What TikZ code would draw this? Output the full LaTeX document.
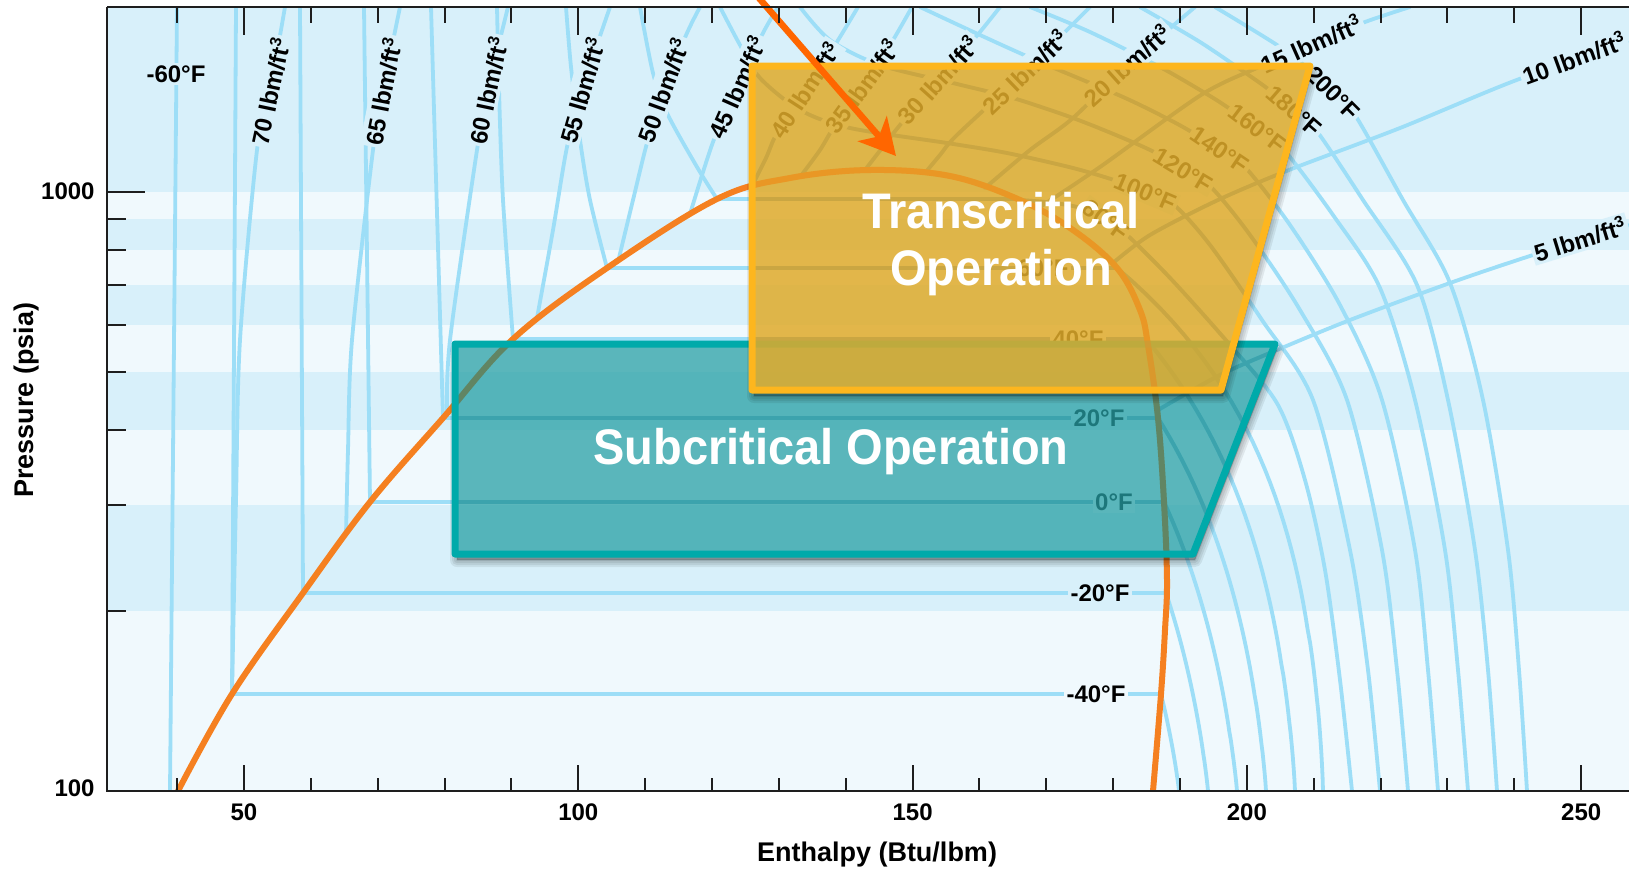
\documentclass[tikz,border=0pt]{standalone}
\usepackage{fontspec}
\setmainfont{Liberation Sans}
\usetikzlibrary{arrows.meta}

\definecolor{bgdark}{RGB}{216,240,250}
\definecolor{bglight}{RGB}{240,249,253}
\definecolor{isoline}{RGB}{157,222,247}
\definecolor{isogold}{RGB}{80,140,200}
\definecolor{isoteal}{RGB}{120,175,200}
\definecolor{domec}{RGB}{245,128,32}
\definecolor{domeolive}{RGB}{110,100,40}
\definecolor{arrowc}{RGB}{255,102,0}
\definecolor{goldline}{RGB}{253,182,30}
\definecolor{goldfill}{RGB}{224,171,43}
\definecolor{tealline}{RGB}{0,170,170}
\definecolor{tealfill}{RGB}{40,160,165}
\definecolor{axisc}{RGB}{30,30,30}

% vapour branch of a subcritical isotherm: starts on the dome at (xs,ys),
% ends at enthalpy xb on the 100 psia line; #4 shapes the bend
\newcommand\vapiso[4]{%
  \draw[iso] plot[domain=#1:790.9, samples=40, variable=\t]
    ({#3-(#3-#2)*pow((pow(10,(791-\t)/599)-1)/(pow(10,(791-#1)/599)-1),#4)},{\t});}

% all isotherms and isochores of the chart
\newcommand\chartlines{%
% compressed-liquid isotherms
\draw[iso] (170,791) -- (177,7);
\draw[iso] (232,694) -- (236,7);
\draw[iso] (303,593) -- (300,7);
\draw[iso] (370,502) -- (364,7);
\draw[iso] (443,418) -- (431,7);
\draw[iso] plot[smooth] coordinates {(513,339) (503,200) (499,90) (497,7)};
\draw[iso] plot[smooth] coordinates {(607,268) (590,200) (580,140) (571,67) (566,7)};
\draw[iso] plot[smooth] coordinates {(717,199) (697,167) (667,113) (653,73) (640,7)};
% two-phase isotherms
\draw[iso] (232,694) -- (1161,694);
\draw[iso] (303,593) -- (1166,593);
\draw[iso] (370,502) -- (1164,502);
\draw[iso] (443,418) -- (1158,418);
\draw[iso] (513,339) -- (1147,339);
\draw[iso] (607,268) -- (1117,268);
\draw[iso] (717,199) -- (1020,199);
% superheated vapour isotherms
\vapiso{694}{1161}{1179}{1.1}
\vapiso{593}{1166}{1208}{1.1}
\vapiso{502}{1164}{1237}{1.1}
\vapiso{418}{1158}{1266}{1.15}
\vapiso{340}{1147}{1295}{1.2}
\vapiso{268}{1117}{1323}{1.3}
\draw[iso] plot[smooth] coordinates {(1020,200) (1055,203) (1085,209) (1106,220) (1125,233) (1172,280) (1230,345) (1278,405) (1305,480) (1325,570) (1340,680) (1352,791)};
% supercritical isotherms
\draw[iso] plot[smooth] coordinates {(720,7) (740,45) (760,78) (800,110) (850,128) (947,143) (1007,153) (1073,168) (1117,181) (1145,192) (1173,204) (1210,245) (1262,320) (1313,400) (1350,550) (1368,670) (1380,791)};
\draw[iso] plot[smooth] coordinates {(800,7) (830,40) (880,65) (957,84) (1013,98) (1073,118) (1123,138) (1156,153) (1183,170) (1210,186) (1250,235) (1300,310) (1347,400) (1382,550) (1397,670) (1408,791)};
\draw[iso] plot[smooth] coordinates {(920,7) (980,35) (1040,62) (1123,97) (1170,120) (1195,134) (1220,150) (1245,167) (1290,225) (1340,305) (1382,400) (1415,550) (1428,670) (1438,791)};
\draw[iso] plot[smooth] coordinates {(1030,7) (1090,32) (1160,67) (1210,96) (1233,111) (1257,128) (1281,146) (1333,215) (1380,288) (1415,400) (1445,550) (1458,670) (1468,791)};
\draw[iso] plot[smooth] coordinates {(1140,7) (1200,42) (1250,76) (1272,92) (1294,111) (1316,130) (1363,200) (1417,285) (1448,400) (1475,550) (1488,670) (1497,791)};
\draw[iso] plot[smooth] coordinates {(1215,7) (1277,45) (1311,71) (1333,93) (1355,115) (1403,200) (1450,283) (1483,400) (1508,550) (1519,670) (1527,791)};
% isochores, liquid side
\draw[iso] plot[smooth] coordinates {(232,694) (236,500) (240,340) (257,150) (270,91) (285,7)};
\draw[iso] plot[smooth] coordinates {(346,535) (348,450) (352,340) (373,150) (383,91) (400,7)};
\draw[iso] plot[smooth] coordinates {(447,415) (450,340) (477,150) (488,90) (508,7)};
\draw[iso] plot[smooth] coordinates {(537,318) (553,230) (567,147) (582,90) (610,7)};
\draw[iso] plot[smooth] coordinates {(618,262) (633,200) (647,143) (663,90) (687,33) (700,7)};
\draw[iso] plot[smooth] coordinates {(690,214) (713,142) (737,87) (763,33) (778,7)};
% isochores, vapour / supercritical side
\draw[iso] plot[smooth] coordinates {(750,190) (766,158) (777,133) (805,90) (835,45) (858,7)};
\draw[iso] plot[smooth] coordinates {(800,177) (820,150) (835,125) (862,86) (890,45) (912,7)};
\draw[iso] plot[smooth] coordinates {(865,170) (882,148) (900,125) (938,80) (975,38) (1000,7)};
\draw[iso] plot[smooth] coordinates {(925,173) (940,155) (957,135) (1025,72) (1060,37) (1090,7)};
\draw[iso] plot[smooth] coordinates {(985,188) (1030,150) (1073,118) (1127,65) (1168,30) (1195,7)};
\draw[iso] plot[smooth] coordinates {(1040,207) (1100,167) (1201,95) (1259,67) (1311,44) (1365,22) (1410,7)};
\draw[iso] plot[smooth] coordinates {(1113,263) (1150,235) (1218,200) (1289,170) (1400,128) (1522,78) (1640,40)};
\draw[iso] plot[smooth] coordinates {(1158,410) (1220,375) (1277,350) (1350,320) (1450,283) (1533,255) (1640,222)};
}

\newcommand\domepath{plot[smooth, tension=0.6] coordinates {(178,791) (232,694) (303,593) (370,502) (443,418) (513,339) (607,268) (717,199) (790,178) (870,170) (950,176) (1020,200) (1073,230) (1117,268) (1140,310) (1148,345) (1158,418) (1164,502) (1167,580) (1165,630) (1161,694) (1153,791)}}
\newcommand\subpoly{(455,344) -- (1275,344) -- (1193,554) -- (455,554) -- cycle}
\newcommand\transpoly{(752,66) -- (1310,66) -- (1221,390) -- (752,390) -- cycle}

\begin{document}
\begin{tikzpicture}[x=0.5pt,y=-0.5pt,
  iso/.style={isoline, line width=1.9pt, line cap=round, line join=round},
  lab/.style={font=\fontsize{12}{14}\selectfont\bfseries, inner sep=1.2pt, fill=bgdark, text=black},
  labl/.style={lab, fill=bglight},
  dome/.style={domec, line width=3pt, line cap=round},
  tick/.style={axisc, line width=1pt},
  ticklab/.style={font=\fontsize{12}{14}\selectfont\bfseries, inner sep=0pt},
  axtitle/.style={font=\fontsize{13.5}{16}\selectfont\bfseries, inner sep=0pt, anchor=base},
  big/.style={font=\fontsize{25}{30}\selectfont\bfseries, text=white, anchor=base, inner sep=0pt}]

\useasboundingbox (0,0) rectangle (1629,869);
\fill[white] (0,0) rectangle (1629,869);

% background bands
\fill[bgdark] (107,7) rectangle (1629,791);
\foreach \a/\b in {192/219.4, 250/284.8, 324.9/372.3, 430.4/505.2, 610.7/791}
  \fill[bglight] (107,\a) rectangle (1629,\b);

\begin{scope}
\clip (107,7) rectangle (1629,791);
\chartlines
\end{scope}
% deeper line colour where the tinted regions will lie
\begin{scope}[iso/.style={isoteal, line width=1.9pt, line cap=round, line join=round}]
\clip \subpoly;
\chartlines
\end{scope}
\begin{scope}[iso/.style={isogold, line width=1.9pt, line cap=round, line join=round}]
\clip \transpoly;
\chartlines
\end{scope}

% isotherm labels
\node[lab] (tm60) at (176,74) {-60°F};
\node[labl] (tm40) at (1096,694) {-40°F};
\node[lab] (tm20) at (1100,593) {-20°F};
\node[labl] (t0) at (1114,502) {0°F};
\node[lab] (t20) at (1099,418) {20°F};
\node[labl] (t40) at (1078,339) {40°F};
\node[labl] (t60) at (1043,268) {60°F};
\node[lab, rotate=-36] (t80) at (1106,220) {80°F};
\node[lab, rotate=-23] (t100) at (1145,192) {100°F};
\node[lab, rotate=-31] (t120) at (1183,170) {120°F};
\node[lab, rotate=-34] (t140) at (1220,150) {140°F};
\node[lab, rotate=-37] (t160) at (1257,128) {160°F};
\node[lab, rotate=-41] (t180) at (1294,111) {180°F};
\node[lab, rotate=-45] (t200) at (1333,93) {200°F};

% density labels
\node[lab, rotate=78] (d70) at (270,91) {70 lbm/ft\textsuperscript{3}};
\node[lab, rotate=79] (d65) at (383,91) {65 lbm/ft\textsuperscript{3}};
\node[lab, rotate=78] (d60) at (488,90) {60 lbm/ft\textsuperscript{3}};
\node[lab, rotate=74] (d55) at (582,90) {55 lbm/ft\textsuperscript{3}};
\node[lab, rotate=70] (d50) at (663,90) {50 lbm/ft\textsuperscript{3}};
\node[lab, rotate=66] (d45) at (737,87) {45 lbm/ft\textsuperscript{3}};
\node[lab, rotate=57] (d40) at (805,90) {40 lbm/ft\textsuperscript{3}};
\node[lab, rotate=54] (d35) at (862,86) {35 lbm/ft\textsuperscript{3}};
\node[lab, rotate=48] (d30) at (938,80) {30 lbm/ft\textsuperscript{3}};
\node[lab, rotate=44] (d25) at (1025,72) {25 lbm/ft\textsuperscript{3}};
\node[lab, rotate=42] (d20) at (1127,65) {20 lbm/ft\textsuperscript{3}};
\node[lab, rotate=24] (d15) at (1311,44) {15 lbm/ft\textsuperscript{3}};
\node[lab, rotate=20] (d10) at (1574,58) {10 lbm/ft\textsuperscript{3}};
\node[lab, rotate=17] (d5) at (1580,239) {5 lbm/ft\textsuperscript{3}};

% saturation dome
\begin{scope}
\clip (107,7) rectangle (1629,791);
\draw[dome] \domepath;
\end{scope}

% subcritical region, its shadow kept outside the shape
\begin{scope}[even odd rule]
\clip (0,0) rectangle (1629,869) \subpoly;
\begin{scope}[shift={(2,6)}]
\foreach \w in {1,3,5,7}
  \filldraw[black, opacity=0.07, line width=\w pt, line join=round] \subpoly;
\end{scope}
\end{scope}
\fill[tealfill, fill opacity=0.75] \subpoly;
\begin{scope}
\clip \subpoly;
\draw[dome, domeolive, opacity=0.35] \domepath;
\end{scope}
\draw[tealline, line width=3.5pt, line join=round] \subpoly;

% transcritical region
\begin{scope}[even odd rule]
\clip (0,0) rectangle (1629,869) \transpoly;
\begin{scope}[shift={(2,6)}]
\foreach \w in {1,3,5,7}
  \filldraw[black, opacity=0.07, line width=\w pt, line join=round] \transpoly;
\end{scope}
\end{scope}
\fill[goldfill, fill opacity=0.85] \transpoly;
\begin{scope}
\clip \transpoly;
\draw[dome, opacity=0.35] \domepath;
\end{scope}
\draw[goldline, line width=3.5pt, line join=round] \transpoly;

% pointer to the critical point
\coordinate (arrowtail) at (752,-10);
\coordinate (arrowtip) at (896,156);
\draw[arrowc, line width=3.25pt, -{Stealth[length=18pt, width=19pt, inset=5pt]}] (arrowtail) -- (arrowtip);

% region titles
\node[big] (trans1) at (1001,228) {\scalebox{0.94}[1]{Transcritical}};
\node[big] (trans2) at (1001,285) {\scalebox{0.94}[1]{Operation}};
\node[big] (sub) at (831,464) {\scalebox{0.94}[1]{Subcritical Operation}};

% axes
\draw[axisc, line width=1pt] (107,7) -- (1629,7);
\draw[axisc, line width=1.3pt] (107,7) -- (107,791) -- (1629,791);

\foreach \h in {40,60,70,80,90,110,120,130,140,160,170,180,190,210,220,230,240} {
  \draw[tick] ({244+(\h-50)*6.686},791) -- ++(0,-13);
  \draw[tick] ({244+(\h-50)*6.686},7) -- ++(0,16);
}
\foreach \h in {50,100,150,200,250} {
  \draw[tick] ({244+(\h-50)*6.686},791) -- ++(0,-26);
  \draw[tick] ({244+(\h-50)*6.686},7) -- ++(0,28);
  \node[ticklab] (hx\h) at ({244+(\h-50)*6.686},812) {\h};
}
\foreach \p in {200,300,400,500,600,700,800,900}
  \draw[tick] (107,{791-599*log10(\p/100)}) -- ++(19,0);
\draw[tick] (107,192) -- ++(38,0);

\node[ticklab, anchor=east] (p1000) at (95,191) {1000};
\node[ticklab, anchor=east] (p100) at (95,788) {100};

\node[axtitle] (xtitle) at (877,861) {Enthalpy (Btu/lbm)};
\node[axtitle, rotate=90] (ytitle) at (33,400) {Pressure (psia)};
\end{tikzpicture}
\end{document}
